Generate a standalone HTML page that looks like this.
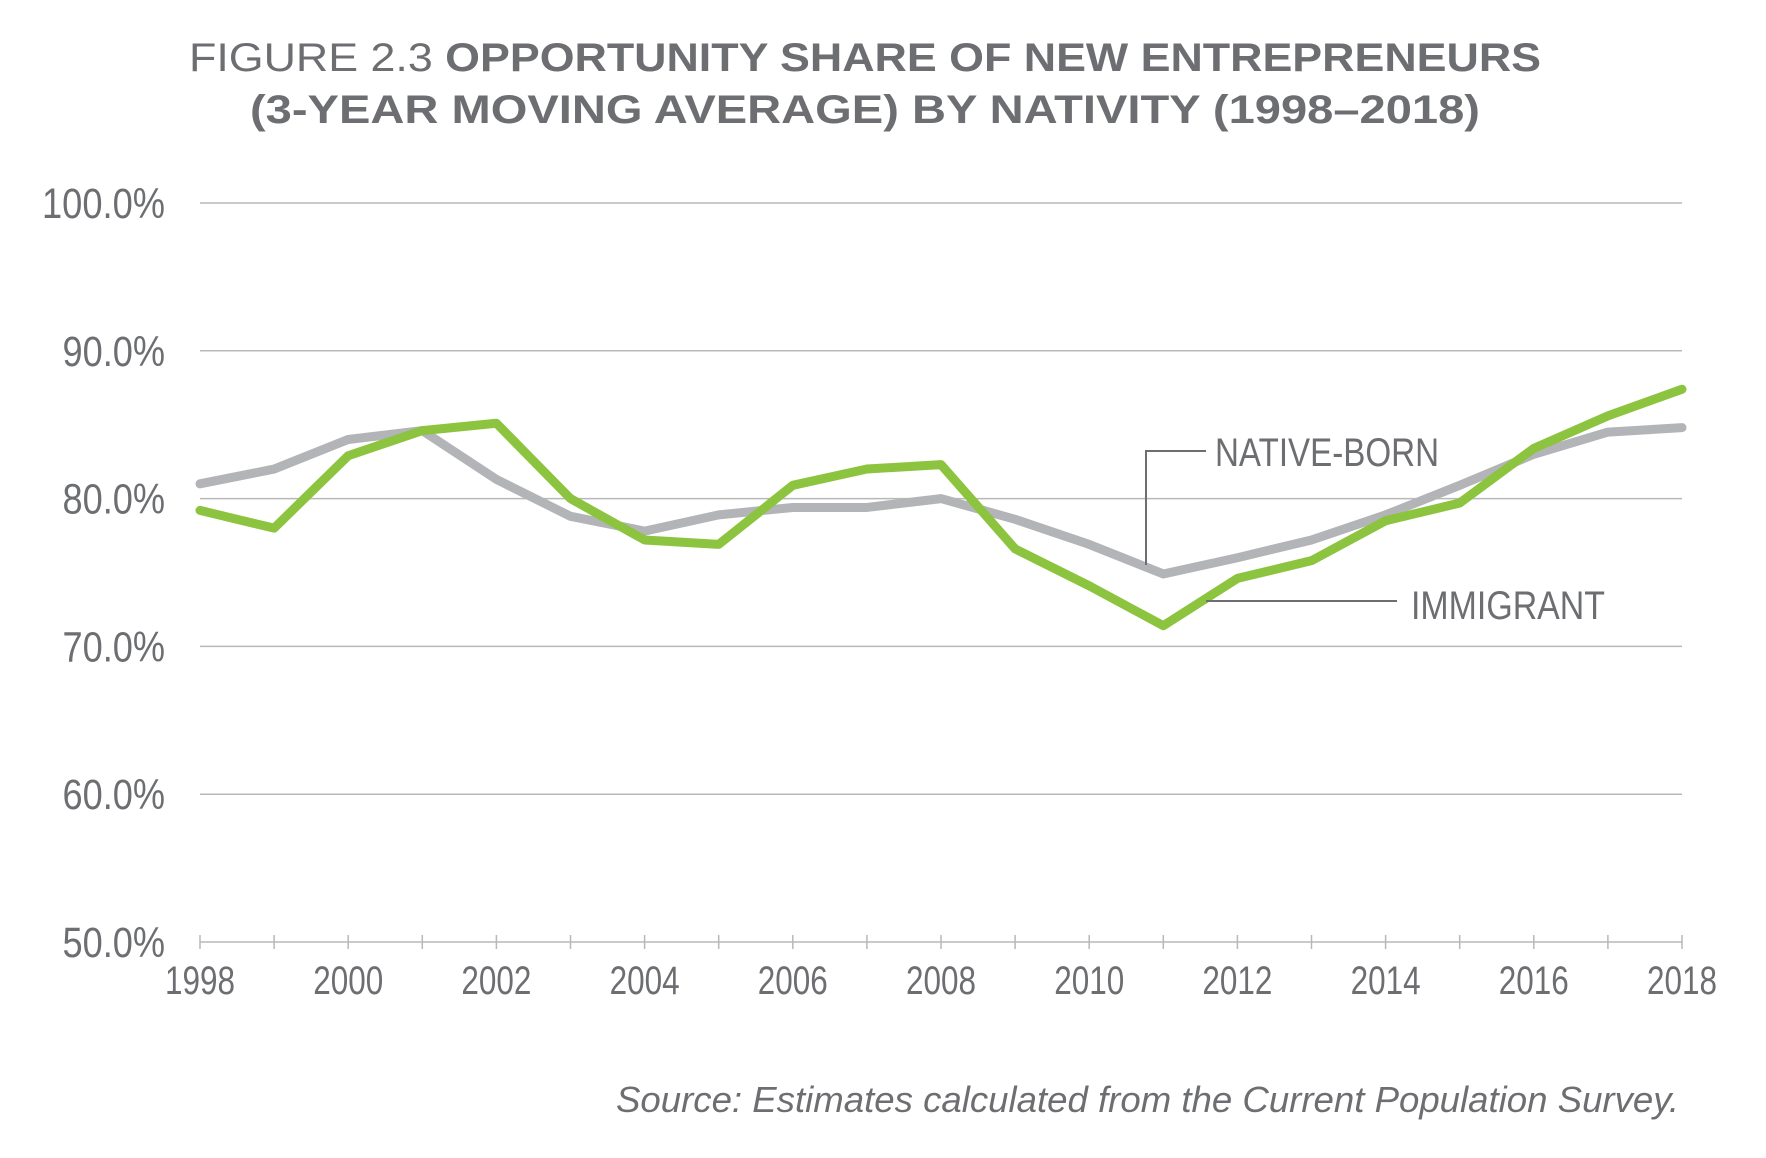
<!DOCTYPE html>
<html><head><meta charset="utf-8"><style>
html,body{margin:0;padding:0;background:#fff;}
svg{display:block;font-family:"Liberation Sans",sans-serif;}
</style></head><body>
<svg id="chart" width="1766" height="1158" viewBox="0 0 1766 1158">
<text x="865" y="71" text-anchor="middle" font-size="40" fill="#6d6e71" textLength="1352" lengthAdjust="spacingAndGlyphs"><tspan font-weight="normal">FIGURE 2.3  </tspan><tspan font-weight="bold">OPPORTUNITY SHARE OF NEW ENTREPRENEURS</tspan></text>
<text x="865" y="123" text-anchor="middle" font-size="40" font-weight="bold" fill="#6d6e71" textLength="1230" lengthAdjust="spacingAndGlyphs">(3-YEAR MOVING AVERAGE) BY NATIVITY (1998–2018)</text>
<g id="grid"></g><g id="axis"></g><g id="series"></g>
<g>
<polyline points="1146,565 1146,451 1206,451" fill="none" stroke="#6d6e71" stroke-width="2"/>
<text x="1215" y="466" font-size="40" fill="#6d6e71" textLength="224" lengthAdjust="spacingAndGlyphs">NATIVE-BORN</text>
</g>
<g>
<line x1="1206" y1="601" x2="1397" y2="601" stroke="#6d6e71" stroke-width="2"/>
<text x="1411" y="619" font-size="40" fill="#6d6e71" textLength="194" lengthAdjust="spacingAndGlyphs">IMMIGRANT</text>
</g>
<text x="1679" y="1112" text-anchor="end" font-size="36" font-style="italic" fill="#6d6e71" textLength="1063" lengthAdjust="spacingAndGlyphs">Source: Estimates calculated from the Current Population Survey.</text>
</svg>
<script>
const years=[1998,1999,2000,2001,2002,2003,2004,2005,2006,2007,2008,2009,2010,2011,2012,2013,2014,2015,2016,2017,2018];
const nativeBorn=[81.0,82.0,84.0,84.6,81.3,78.8,77.8,78.9,79.4,79.4,80.0,78.6,76.9,74.9,76.0,77.2,78.9,80.9,83.0,84.5,84.8];
const immigrant=[79.2,78.0,82.9,84.6,85.1,80.0,77.2,76.9,80.9,82.0,82.3,76.6,74.1,71.4,74.6,75.8,78.5,79.7,83.4,85.6,87.4];
const yTicks=[50,60,70,80,90,100];
const yTickLabels=["50.0%","60.0%","70.0%","80.0%","90.0%","100.0%"];
const xTickLabels=["1998","2000","2002","2004","2006","2008","2010","2012","2014","2016","2018"];

const NS="http://www.w3.org/2000/svg";
const x0=200,x1=1682,y50=942,y100=203;
const xs=y=>x0+(y-1998)*(x1-x0)/20;
const ys=v=>y50-(v-50)*(y50-y100)/50;
function mk(t,a){const e=document.createElementNS(NS,t);for(const k in a)e.setAttribute(k,a[k]);return e;}
const grid=document.getElementById('grid'),axis=document.getElementById('axis'),series=document.getElementById('series');
yTicks.forEach((t,i)=>{
  if(t>50){const l=mk('line',{x1:x0,x2:x1,y1:ys(t),y2:ys(t),stroke:'#b8b8b8','stroke-width':1.5});
  
  
  grid.appendChild(l);}
  const lab=yTickLabels[i];
  const tx=mk('text',{x:165,y:ys(t)+15,'text-anchor':'end','font-size':43,fill:'#6d6e71',textLength:lab.length*20.5,lengthAdjust:'spacingAndGlyphs'});
  
  
  tx.textContent=lab;grid.appendChild(tx);
});
const base=mk('line',{x1:x0,x2:x1,y1:y50,y2:y50,stroke:'#b8b8b8','stroke-width':1.5});


axis.appendChild(base);
years.forEach(y=>{const t=mk('line',{x1:xs(y),x2:xs(y),y1:y50-7,y2:y50+7,stroke:'#b8b8b8','stroke-width':1.5});
  
  
  axis.appendChild(t);});
xTickLabels.forEach(s=>{const t=mk('text',{x:xs(+s),y:994,'text-anchor':'middle','font-size':40,fill:'#6d6e71',textLength:70,lengthAdjust:'spacingAndGlyphs'});
  
  
  t.textContent=s;axis.appendChild(t);});
function line(vals,color,name){
  const p=mk('polyline',{points:vals.map((v,i)=>xs(years[i])+','+ys(v)).join(' '),fill:'none',stroke:color,'stroke-width':9,'stroke-linejoin':'round','stroke-linecap':'round'});
  
  
  series.appendChild(p);
}
line(nativeBorn,'#b3b4b7','native-born-line');
line(immigrant,'#8cc43f','immigrant-line');
</script>
</body></html>
